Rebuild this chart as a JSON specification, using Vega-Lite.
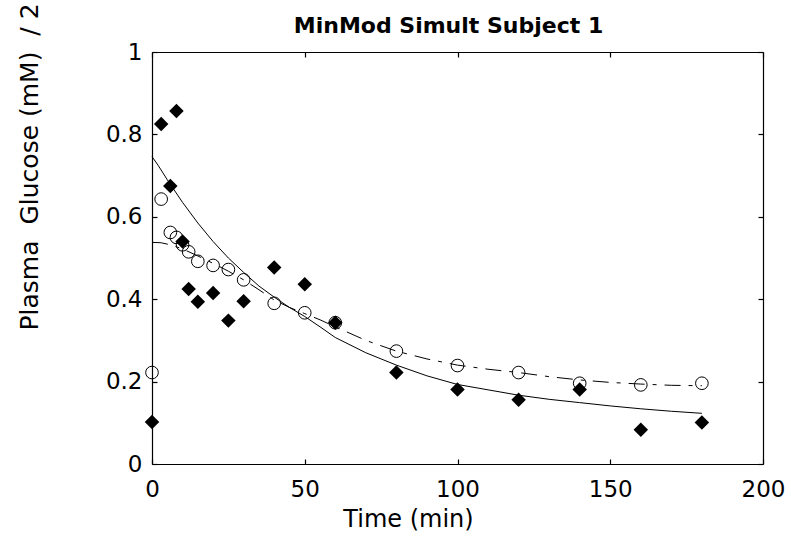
{
  "$schema": "https://vega.github.io/schema/vega-lite/v6.json",
  "width": 611,
  "height": 412,
  "autosize": "none",
  "padding": {"left": 152, "top": 52, "right": 28, "bottom": 76},
  "background": "white",
  "config": {
    "view": {"stroke": null},
    "axis": {"grid": false, "domainColor": "black", "tickColor": "black", "labelColor": "black", "titleColor": "black", "labelFont": "DejaVu Sans", "titleFont": "DejaVu Sans", "labelFontSize": 23, "titleFontSize": 24, "titleFontWeight": "normal", "tickSize": -5, "domainWidth": 1.2, "tickWidth": 1.2}
  },
  "title": {"text": "MinMod Simult Subject 1", "font": "DejaVu Sans", "fontSize": 22, "fontWeight": "bold", "color": "black", "anchor": "middle", "frame": "group", "baseline": "alphabetic", "offset": 19, "dx": -9, "dy": 71},
  "datasets": {
    "model": [
      {"t": 0, "g": 0.746}, {"t": 2, "g": 0.725}, {"t": 5, "g": 0.69}, {"t": 10, "g": 0.635}, {"t": 15, "g": 0.585}, {"t": 20, "g": 0.54}, {"t": 25, "g": 0.5}, {"t": 30, "g": 0.465}, {"t": 35, "g": 0.432}, {"t": 40, "g": 0.405}, {"t": 45, "g": 0.38}, {"t": 50, "g": 0.358}, {"t": 55, "g": 0.333}, {"t": 60, "g": 0.307}, {"t": 70, "g": 0.27}, {"t": 80, "g": 0.24}, {"t": 90, "g": 0.214}, {"t": 100, "g": 0.193}, {"t": 110, "g": 0.18}, {"t": 120, "g": 0.167}, {"t": 130, "g": 0.157}, {"t": 140, "g": 0.149}, {"t": 150, "g": 0.141}, {"t": 160, "g": 0.134}, {"t": 170, "g": 0.128}, {"t": 180, "g": 0.123}
    ],
    "model2": [
      {"t": 0, "g": 0.538}, {"t": 3, "g": 0.537}, {"t": 6, "g": 0.532}, {"t": 10, "g": 0.522}, {"t": 15, "g": 0.505}, {"t": 20, "g": 0.487}, {"t": 25, "g": 0.468}, {"t": 30, "g": 0.447}, {"t": 35, "g": 0.423}, {"t": 40, "g": 0.398}, {"t": 45, "g": 0.38}, {"t": 50, "g": 0.365}, {"t": 55, "g": 0.35}, {"t": 60, "g": 0.333}, {"t": 70, "g": 0.3}, {"t": 80, "g": 0.274}, {"t": 90, "g": 0.255}, {"t": 100, "g": 0.24}, {"t": 110, "g": 0.23}, {"t": 120, "g": 0.222}, {"t": 130, "g": 0.212}, {"t": 140, "g": 0.204}, {"t": 150, "g": 0.198}, {"t": 160, "g": 0.194}, {"t": 170, "g": 0.191}, {"t": 180, "g": 0.19}
    ],
    "diamonds": [
      {"t": 0, "g": 0.102}, {"t": 3, "g": 0.825}, {"t": 6, "g": 0.675}, {"t": 8, "g": 0.857}, {"t": 10, "g": 0.54}, {"t": 12, "g": 0.425}, {"t": 15, "g": 0.394}, {"t": 20, "g": 0.415}, {"t": 25, "g": 0.348}, {"t": 30, "g": 0.395}, {"t": 40, "g": 0.477}, {"t": 50, "g": 0.436}, {"t": 60, "g": 0.343}, {"t": 80, "g": 0.222}, {"t": 100, "g": 0.181}, {"t": 120, "g": 0.156}, {"t": 140, "g": 0.181}, {"t": 160, "g": 0.083}, {"t": 180, "g": 0.101}
    ],
    "circles": [
      {"t": 0, "g": 0.222}, {"t": 3, "g": 0.643}, {"t": 6, "g": 0.562}, {"t": 8, "g": 0.55}, {"t": 10, "g": 0.532}, {"t": 12, "g": 0.515}, {"t": 15, "g": 0.492}, {"t": 20, "g": 0.482}, {"t": 25, "g": 0.472}, {"t": 30, "g": 0.447}, {"t": 40, "g": 0.39}, {"t": 50, "g": 0.367}, {"t": 60, "g": 0.343}, {"t": 80, "g": 0.274}, {"t": 100, "g": 0.239}, {"t": 120, "g": 0.222}, {"t": 140, "g": 0.196}, {"t": 160, "g": 0.192}, {"t": 180, "g": 0.196}
    ]
  },
  "resolve": {"axis": {"x": "independent", "y": "independent"}},
  "layer": [
    {
      "data": {"name": "model"},
      "mark": {"type": "line", "color": "black", "strokeWidth": 1},
      "encoding": {
        "x": {"field": "t", "type": "quantitative", "scale": {"domain": [0, 200], "nice": false, "zero": false}, "axis": {"orient": "bottom", "values": [0, 50, 100, 150, 200], "labelPadding": 19, "title": "Time (min)", "titleX": 256, "titleY": 62, "titleBaseline": "alphabetic", "titleAlign": "center", "labelFlush": false}},
        "y": {"field": "g", "type": "quantitative", "scale": {"domain": [0, 1], "nice": false}, "axis": {"orient": "left", "values": [0, 0.2, 0.4, 0.6, 0.8, 1], "format": "~g", "labelPadding": 15, "title": "Plasma\u00a0 Glucose (mM)\u00a0 / 2", "titleAngle": 270, "titleX": -115, "titleY": 278, "titleAlign": "left", "titleBaseline": "alphabetic", "titleFontSize": 25, "labelFlush": false}}
      }
    },
    {
      "data": {"name": "model2"},
      "mark": {"type": "line", "color": "black", "strokeWidth": 1, "strokeDash": [16, 8, 4, 8]},
      "encoding": {
        "x": {"field": "t", "type": "quantitative", "axis": {"orient": "top", "values": [0, 50, 100, 150, 200], "labels": false, "title": null}},
        "y": {"field": "g", "type": "quantitative", "axis": {"orient": "right", "values": [0, 0.2, 0.4, 0.6, 0.8, 1], "labels": false, "title": null}}
      }
    },
    {
      "data": {"name": "circles"},
      "mark": {"type": "point", "shape": "circle", "filled": false, "stroke": "black", "strokeWidth": 1, "size": 160, "opacity": 1},
      "encoding": {
        "x": {"field": "t", "type": "quantitative", "axis": null},
        "y": {"field": "g", "type": "quantitative", "axis": null}
      }
    },
    {
      "data": {"name": "diamonds"},
      "mark": {"type": "point", "shape": "diamond", "filled": true, "color": "black", "size": 210, "opacity": 1},
      "encoding": {
        "x": {"field": "t", "type": "quantitative", "axis": null},
        "y": {"field": "g", "type": "quantitative", "axis": null}
      }
    }
  ]
}
